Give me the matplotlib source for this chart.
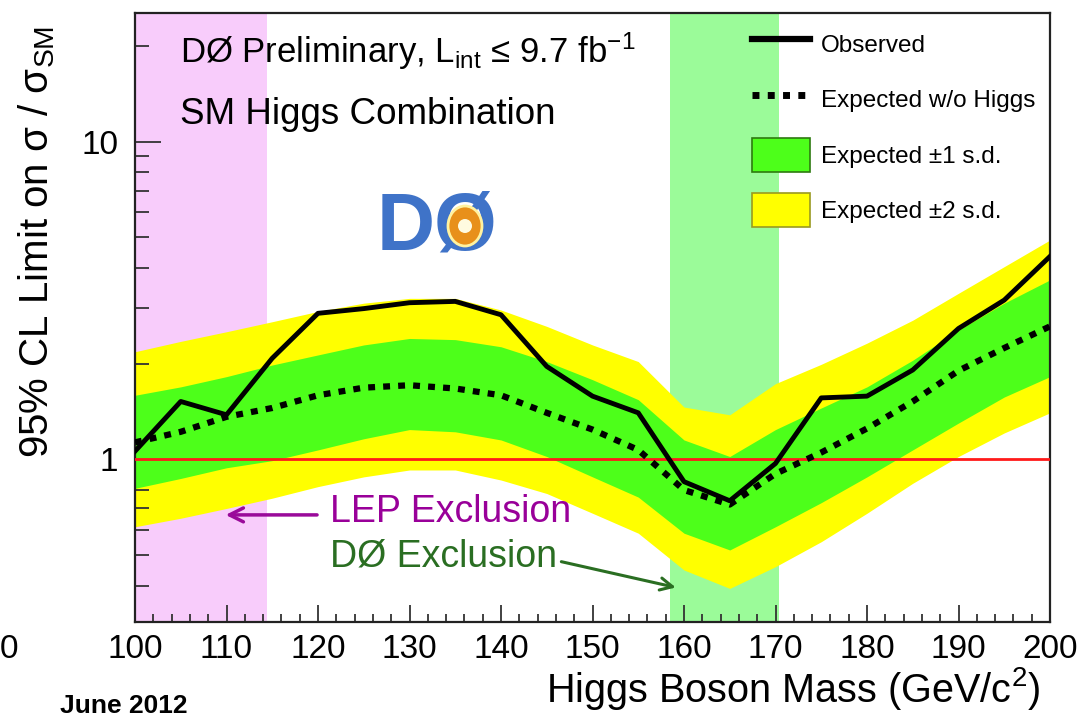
import matplotlib
matplotlib.use("Agg")
import matplotlib.pyplot as plt
from matplotlib.patches import Patch, Ellipse
from matplotlib.lines import Line2D
from matplotlib.ticker import MultipleLocator, LogLocator, NullFormatter, FixedLocator, FixedFormatter

plt.rcParams['font.family'] = ['Liberation Sans', 'DejaVu Sans']
plt.rcParams['mathtext.fontset'] = 'custom'
plt.rcParams['mathtext.rm'] = 'Liberation Sans'
plt.rcParams['mathtext.it'] = 'Liberation Sans:italic'

# Higgs mass points (GeV/c^2)
mass = [100, 105, 110, 115, 120, 125, 130, 135, 140, 145, 150,
        155, 160, 165, 170, 175, 180, 185, 190, 195, 200]

# limits
observed = [1.06, 1.52, 1.38, 2.08, 2.88, 2.98, 3.11, 3.14, 2.85, 1.96, 1.58,
            1.40, 0.85, 0.74, 0.97, 1.56, 1.58, 1.91, 2.58, 3.17, 4.35]
expected = [1.13, 1.22, 1.36, 1.45, 1.59, 1.68, 1.71, 1.67, 1.59, 1.40, 1.24,
            1.07, 0.80, 0.72, 0.90, 1.05, 1.25, 1.52, 1.90, 2.24, 2.62]

# +-1 s.d. and +-2 s.d. bands
sd1_up = [1.59, 1.69, 1.82, 1.98, 2.13, 2.29, 2.40, 2.38, 2.26, 2.03, 1.78,
          1.54, 1.15, 1.02, 1.24, 1.45, 1.69, 2.05, 2.55, 3.10, 3.67]
sd1_dn = [0.81, 0.87, 0.94, 0.99, 1.07, 1.16, 1.24, 1.22, 1.15, 1.02, 0.88,
          0.76, 0.585, 0.518, 0.613, 0.73, 0.88, 1.07, 1.30, 1.57, 1.82]
sd2_up = [2.18, 2.35, 2.52, 2.71, 2.92, 3.10, 3.21, 3.21, 2.95, 2.62, 2.29,
          2.03, 1.46, 1.38, 1.73, 1.99, 2.32, 2.74, 3.33, 4.04, 4.90]
sd2_dn = [0.613, 0.652, 0.70, 0.754, 0.82, 0.88, 0.925, 0.925, 0.86, 0.78, 0.676,
          0.585, 0.448, 0.392, 0.459, 0.55, 0.676, 0.84, 1.02, 1.21, 1.40]

lep_excl = (100, 114.4)
d0_excl = (158.5, 170.4)

fig = plt.figure(figsize=(10.82, 7.18), dpi=100)
ax = fig.add_axes([135 / 1082, 1 - 621.7 / 718, 915 / 1082, 608.7 / 718])

# exclusion regions
ax.axvspan(*lep_excl, color='#f8ccfb', lw=0, zorder=0)
ax.axvspan(*d0_excl, color='#9bfb99', lw=0, zorder=0)

# expected bands
ax.fill_between(mass, sd2_dn, sd2_up, color='#ffff00', lw=0, zorder=1)
ax.fill_between(mass, sd1_dn, sd1_up, color='#4dff1a', lw=0, zorder=2)

ax.axhline(1.0, color='#ff1a1a', lw=2.0, zorder=3)
ax.plot(mass, expected, color='black', lw=4.5, ls=(0, (1.1, 1.3)), zorder=4)
ax.plot(mass, observed, color='black', lw=3.5, zorder=5)

ax.set_yscale('log')
ax.set_xlim(100, 200)
ax.set_ylim(0.308, 25.4)

ax.xaxis.set_major_locator(MultipleLocator(10))
ax.xaxis.set_minor_locator(MultipleLocator(2))
ax.yaxis.set_major_locator(FixedLocator([1, 10]))
ax.yaxis.set_major_formatter(FixedFormatter(['1', '10']))
ax.yaxis.set_minor_locator(LogLocator(base=10, subs=range(2, 10)))
ax.yaxis.set_minor_formatter(NullFormatter())

ax.tick_params(axis='both', which='both', direction='in', top=False, right=False,
               labelsize=24, width=1.3, color='#333333')
ax.tick_params(axis='x', which='major', length=12, pad=9)
ax.tick_params(axis='x', which='minor', length=6)
ax.tick_params(axis='y', which='major', length=19, pad=12)
ax.tick_params(axis='y', which='minor', length=10)
for s in ax.spines.values():
    s.set_linewidth(1.6)
    s.set_color('#222222')

# axis titles
fig.text(1040 / 1082, 1 - 688 / 718, 'Higgs Boson Mass (GeV/c$^2$)', fontsize=28.5,
         ha='right', va='center')
fig.text(37 / 1082, 1 - 242 / 718, '95% CL Limit on σ / σ$_{\\rm SM}$', fontsize=29,
         rotation=90, ha='center', va='center')

# header text
fig.text(180 / 1082, 1 - 63 / 718, 'DØ Preliminary, L$_{\\rm int}$ ≤ 9.7 fb$^{-1}$',
         fontsize=25, va='baseline')
fig.text(180 / 1082, 1 - 124 / 718, 'SM Higgs Combination', fontsize=26.5, va='baseline')
fig.text(60 / 1082, 1 - 713 / 718, 'June 2012', fontsize=19, fontweight='bold', va='baseline')
fig.text(0.0, 1 - 650 / 718, '0', fontsize=24, ha='left', va='center')

# DØ logo (rough)
fig.text(437 / 1082, 1 - 228 / 718, 'DØ', fontsize=58, fontweight='bold', color='#3f73c8',
         ha='center', va='center')
fig.patches.append(Ellipse((465 / 1082, 1 - 226 / 718), 34 / 1082, 40 / 718,
                           transform=fig.transFigure, facecolor='#e8901a',
                           edgecolor='#fff2a0', lw=2, zorder=10))
fig.patches.append(Ellipse((465 / 1082, 1 - 226 / 718), 14 / 1082, 14 / 718,
                           transform=fig.transFigure, facecolor='#fffbe0',
                           edgecolor='none', zorder=11))

# exclusion annotations
ax.annotate('', xy=(109.6, 0.668), xytext=(120.2, 0.668),
            arrowprops=dict(arrowstyle='->', color='#9a0a9a', lw=2.5, mutation_scale=25))
ax.text(121.3, 0.68, 'LEP Exclusion', color='#990099', fontsize=27, va='center')
ax.annotate('', xy=(159.4, 0.393), xytext=(146.3, 0.478),
            arrowprops=dict(arrowstyle='->', color='#2a6e22', lw=2.2, mutation_scale=22))
ax.text(121.3, 0.495, 'DØ Exclusion', color='#2a6e22', fontsize=27, va='center')

# legend
handles = [
    Line2D([], [], color='black', lw=4.5),
    Line2D([], [], color='black', lw=5, ls=(0, (1.0, 1.2))),
    Patch(facecolor='#4dff1a', edgecolor='#2e7a10', lw=1.2),
    Patch(facecolor='#ffff00', edgecolor='#9a9a20', lw=1.2),
]
labels = ['Observed', 'Expected w/o Higgs', 'Expected ±1 s.d.', 'Expected ±2 s.d.']
fig.legend(handles, labels, loc='upper left', bbox_to_anchor=(752 / 1082, 1 - 27 / 718),
           frameon=False, fontsize=17.5, handlelength=2.4, handleheight=1.75,
           handletextpad=0.45, labelspacing=0.9, borderpad=0, borderaxespad=0)

fig.savefig('out.png', dpi=100)
